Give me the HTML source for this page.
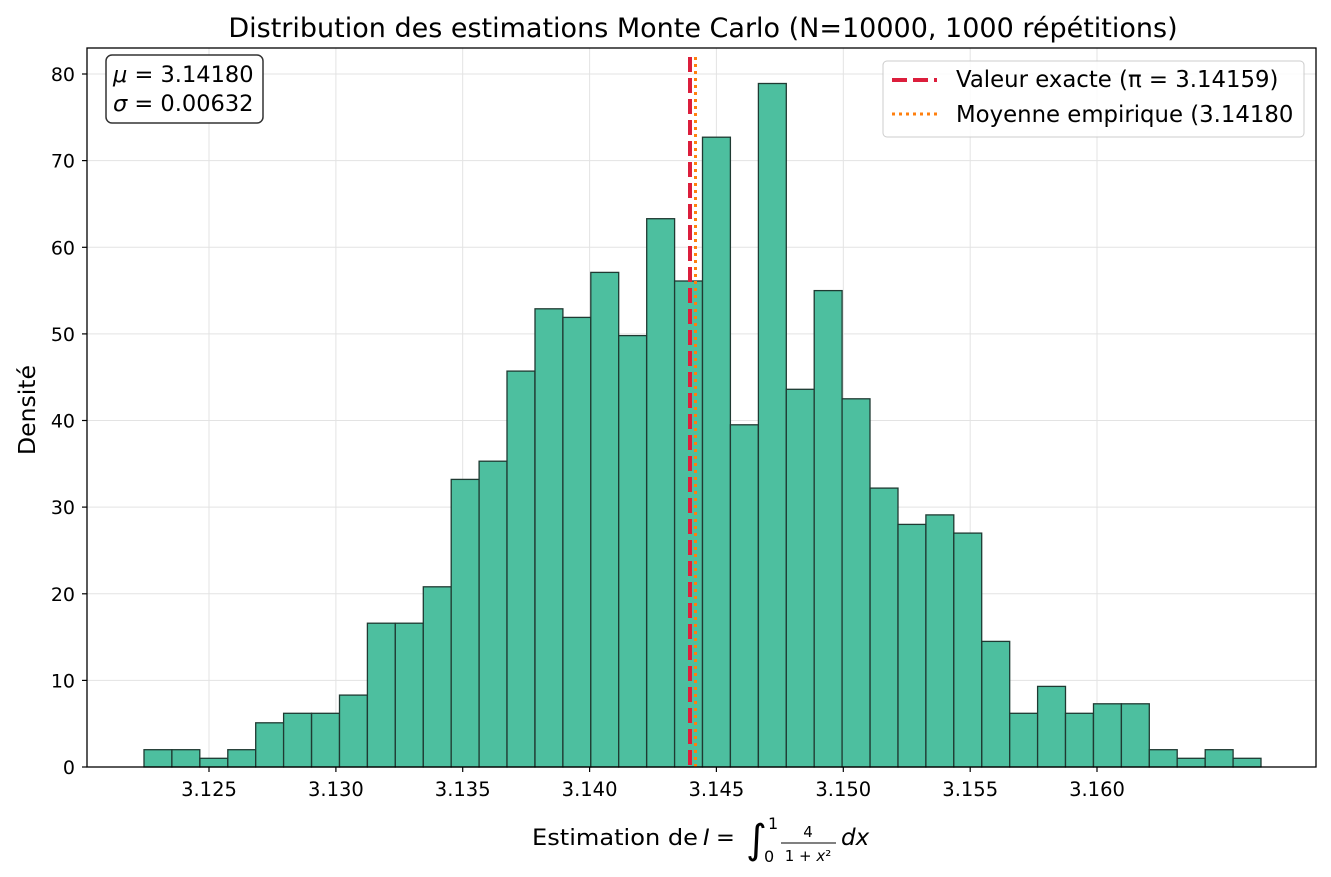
<!DOCTYPE html>
<html><head><meta charset="utf-8"><style>body{margin:0;background:#fff}svg{display:block}text{font-family:"DejaVu Sans","Liberation Sans",sans-serif;fill:#000}</style></head>
<body>
<svg width="1331" height="877" viewBox="0 0 1331 877" xmlns="http://www.w3.org/2000/svg">
<rect width="1331" height="877" fill="#fff"/>
<g stroke="#e3e3e3" stroke-width="1">
<line x1="209" y1="48" x2="209" y2="767"/><line x1="335.9" y1="48" x2="335.9" y2="767"/><line x1="462.7" y1="48" x2="462.7" y2="767"/><line x1="589.6" y1="48" x2="589.6" y2="767"/><line x1="716.4" y1="48" x2="716.4" y2="767"/><line x1="843.3" y1="48" x2="843.3" y2="767"/><line x1="970.2" y1="48" x2="970.2" y2="767"/><line x1="1097" y1="48" x2="1097" y2="767"/>
<line x1="87" y1="680.4" x2="1316" y2="680.4"/><line x1="87" y1="593.8" x2="1316" y2="593.8"/><line x1="87" y1="507.1" x2="1316" y2="507.1"/><line x1="87" y1="420.5" x2="1316" y2="420.5"/><line x1="87" y1="333.9" x2="1316" y2="333.9"/><line x1="87" y1="247.3" x2="1316" y2="247.3"/><line x1="87" y1="160.6" x2="1316" y2="160.6"/><line x1="87" y1="74" x2="1316" y2="74"/>
</g>
<g fill="#4dbf9f" stroke="#1f3a32" stroke-width="1.3">
<rect x="144.0" y="749.7" width="27.9" height="17.3"/><rect x="171.9" y="749.7" width="27.9" height="17.3"/><rect x="199.9" y="758.3" width="27.9" height="8.7"/><rect x="227.8" y="749.7" width="27.9" height="17.3"/><rect x="255.7" y="722.8" width="27.9" height="44.2"/><rect x="283.6" y="713.3" width="27.9" height="53.7"/><rect x="311.6" y="713.3" width="27.9" height="53.7"/><rect x="339.5" y="695.1" width="27.9" height="71.9"/><rect x="367.4" y="623.2" width="27.9" height="143.8"/><rect x="395.3" y="623.2" width="27.9" height="143.8"/><rect x="423.3" y="586.8" width="27.9" height="180.2"/><rect x="451.2" y="479.4" width="27.9" height="287.6"/><rect x="479.1" y="461.2" width="27.9" height="305.8"/><rect x="507.0" y="371.1" width="27.9" height="395.9"/><rect x="535.0" y="308.8" width="27.9" height="458.2"/><rect x="562.9" y="317.4" width="27.9" height="449.6"/><rect x="590.8" y="272.4" width="27.9" height="494.6"/><rect x="618.7" y="335.6" width="27.9" height="431.4"/><rect x="646.7" y="218.7" width="27.9" height="548.3"/><rect x="674.6" y="281.0" width="27.9" height="486.0"/><rect x="702.5" y="137.2" width="27.9" height="629.8"/><rect x="730.4" y="424.8" width="27.9" height="342.2"/><rect x="758.4" y="83.5" width="27.9" height="683.5"/><rect x="786.3" y="389.3" width="27.9" height="377.7"/><rect x="814.2" y="290.6" width="27.9" height="476.4"/><rect x="842.1" y="398.8" width="27.9" height="368.2"/><rect x="870.1" y="488.1" width="27.9" height="278.9"/><rect x="898.0" y="524.4" width="27.9" height="242.6"/><rect x="925.9" y="514.9" width="27.9" height="252.1"/><rect x="953.8" y="533.1" width="27.9" height="233.9"/><rect x="981.8" y="641.4" width="27.9" height="125.6"/><rect x="1009.7" y="713.3" width="27.9" height="53.7"/><rect x="1037.6" y="686.4" width="27.9" height="80.6"/><rect x="1065.5" y="713.3" width="27.9" height="53.7"/><rect x="1093.5" y="703.8" width="27.9" height="63.2"/><rect x="1121.4" y="703.8" width="27.9" height="63.2"/><rect x="1149.3" y="749.7" width="27.9" height="17.3"/><rect x="1177.2" y="758.3" width="27.9" height="8.7"/><rect x="1205.2" y="749.7" width="27.9" height="17.3"/><rect x="1233.1" y="758.3" width="27.9" height="8.7"/>
</g>
<line x1="690" y1="57" x2="690" y2="767" stroke="#dc1e3c" stroke-width="4" stroke-dasharray="15,6"/>
<line x1="695.5" y1="57" x2="695.5" y2="767" stroke="#ff7f0e" stroke-width="3" stroke-dasharray="3,4"/>
<rect x="87" y="48" width="1229" height="719" fill="none" stroke="#000" stroke-width="1.3"/>
<g stroke="#000" stroke-width="1.2">
<line x1="209" y1="767" x2="209" y2="772"/><line x1="335.9" y1="767" x2="335.9" y2="772"/><line x1="462.7" y1="767" x2="462.7" y2="772"/><line x1="589.6" y1="767" x2="589.6" y2="772"/><line x1="716.4" y1="767" x2="716.4" y2="772"/><line x1="843.3" y1="767" x2="843.3" y2="772"/><line x1="970.2" y1="767" x2="970.2" y2="772"/><line x1="1097" y1="767" x2="1097" y2="772"/>
<line x1="82" y1="767" x2="87" y2="767"/><line x1="82" y1="680.4" x2="87" y2="680.4"/><line x1="82" y1="593.8" x2="87" y2="593.8"/><line x1="82" y1="507.1" x2="87" y2="507.1"/><line x1="82" y1="420.5" x2="87" y2="420.5"/><line x1="82" y1="333.9" x2="87" y2="333.9"/><line x1="82" y1="247.3" x2="87" y2="247.3"/><line x1="82" y1="160.6" x2="87" y2="160.6"/><line x1="82" y1="74" x2="87" y2="74"/>
</g>
<g font-size="19.5" text-anchor="middle">
<text x="209" y="796">3.125</text><text x="335.9" y="796">3.130</text><text x="462.7" y="796">3.135</text><text x="589.6" y="796">3.140</text><text x="716.4" y="796">3.145</text><text x="843.3" y="796">3.150</text><text x="970.2" y="796">3.155</text><text x="1097" y="796">3.160</text>
</g>
<g font-size="19" text-anchor="end">
<text x="75" y="774">0</text><text x="75" y="687.4">10</text><text x="75" y="600.8">20</text><text x="75" y="514.1">30</text><text x="75" y="427.5">40</text><text x="75" y="340.9">50</text><text x="75" y="254.3">60</text><text x="75" y="167.6">70</text><text x="75" y="81">80</text>
</g>
<text x="703" y="37" font-size="27" text-anchor="middle">Distribution des estimations Monte Carlo (N=10000, 1000 répétitions)</text>
<text transform="translate(35,410) rotate(-90)" font-size="23.5" text-anchor="middle">Densité</text>
<text x="532" y="845" font-size="22.5" textLength="166" lengthAdjust="spacingAndGlyphs">Estimation de</text>
<text x="703" y="845" font-size="22.5" font-style="italic">I</text>
<text x="716" y="845" font-size="22.5">=</text>
<text x="746" y="853" font-size="40">∫</text>
<text x="768" y="829" font-size="16">1</text><text x="764" y="862" font-size="16">0</text>
<text x="808" y="837" font-size="15" text-anchor="middle">4</text>
<line x1="781" y1="843" x2="836" y2="843" stroke="#000" stroke-width="1"/>
<text x="808" y="861" font-size="15" text-anchor="middle">1 + <tspan font-style="italic">x</tspan>²</text>
<text x="841" y="845" font-size="23" font-style="italic">dx</text>
<rect x="106" y="55" width="157" height="68" rx="6" fill="#fff" stroke="#333" stroke-width="1.5"/>
<text x="113" y="82" font-size="22.5"><tspan font-style="italic">μ</tspan> = 3.14180</text>
<text x="113" y="111" font-size="22.5"><tspan font-style="italic">σ</tspan> = 0.00632</text>
<rect x="883" y="61" width="421" height="76" rx="4" fill="#fff" fill-opacity="0.85" stroke="#ccc" stroke-width="1"/>
<line x1="892" y1="80" x2="937" y2="80" stroke="#dc1e3c" stroke-width="4" stroke-dasharray="15,6"/>
<line x1="892" y1="114" x2="937" y2="114" stroke="#ff7f0e" stroke-width="3" stroke-dasharray="3,4"/>
<text x="956" y="87" font-size="22.8">Valeur exacte (π = 3.14159)</text>
<text x="956" y="122" font-size="22.8">Moyenne empirique (3.14180</text>
</svg>
</body></html>
